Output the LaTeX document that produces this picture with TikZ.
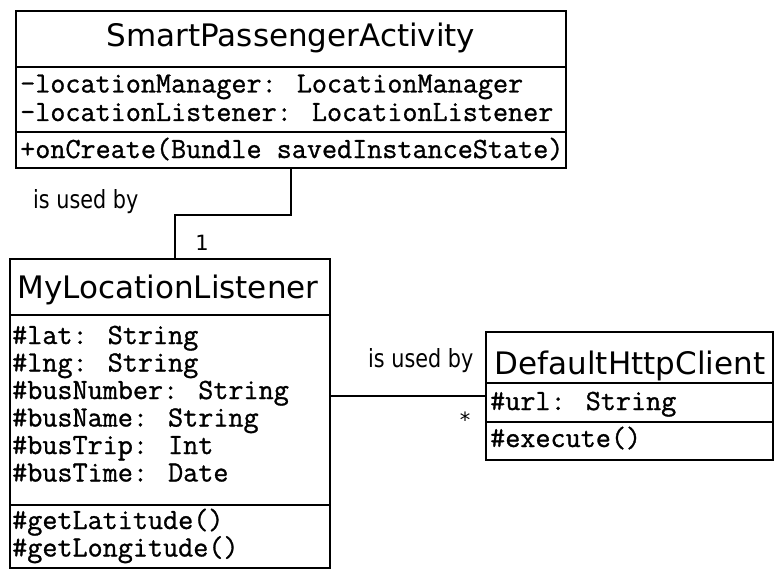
\documentclass[tikz,border=0pt]{standalone}
\usepackage{fontspec}
\setmainfont{DejaVu Sans}
\newfontfamily\titlefont{DejaVu Sans}
\newfontfamily\labelfont[FakeStretch=0.83]{DejaVu Sans}
\newfontfamily\codefont[FakeBold=1]{Latin Modern Mono}

\begin{document}
\begin{tikzpicture}[x=1pt,y=-1pt,
  classbox/.style={draw=black, line width=2.5pt, rectangle, inner sep=0pt,
    outer sep=0pt, anchor=north west},
  divider/.style={draw=black, line width=2.5pt},
  classname/.style={font=\titlefont\fontsize{31}{31}\selectfont, inner sep=0pt, anchor=base},
  member/.style={font=\codefont\fontsize{29.3}{29.3}\selectfont, inner sep=0pt, anchor=base west},
  assoc/.style={draw=black, line width=2.5pt},
  rolelabel/.style={font=\labelfont\fontsize{25}{25}\selectfont, inner sep=0pt, anchor=base west},
  multlabel/.style={font=\titlefont\fontsize{21}{21}\selectfont, inner sep=0pt}
]
\useasboundingbox[fill=white] (0,0) rectangle (775,572);

% ---- SmartPassengerActivity ----
\node[classbox, minimum width=550pt, minimum height=157pt] (spa) at (16,11) {};
\node[classname] (spa-name) at (291,47) {SmartPassengerActivity};
\draw[divider] (16,67) -- (566,67);
\node[member] (spa-a1) at (20,92.5) {-locationManager: LocationManager};
\node[member] (spa-a2) at (20,121) {-locationListener: LocationListener};
\draw[divider] (16,132) -- (566,132);
\begin{scope}
  \clip (16,132) rectangle (565,168);
  \node[member] (spa-o1) at (20,158) {+onCreate(Bundle savedInstanceState)};
\end{scope}

% ---- MyLocationListener ----
\node[classbox, minimum width=320pt, minimum height=309pt] (mll) at (10,259) {};
\node[classname] (mll-name) at (168,298) {MyLocationListener};
\draw[divider] (10,315) -- (330,315);
\node[member] (mll-a1) at (12,344) {\#lat: String};
\node[member] (mll-a2) at (12,371.5) {\#lng: String};
\node[member] (mll-a3) at (12,399) {\#busNumber: String};
\node[member] (mll-a4) at (12,426.5) {\#busName: String};
\node[member] (mll-a5) at (12,454) {\#busTrip: Int};
\node[member] (mll-a6) at (12,481.5) {\#busTime: Date};
\draw[divider] (10,505) -- (330,505);
\node[member] (mll-o1) at (12,529) {\#getLatitude()};
\node[member] (mll-o2) at (12,556.5) {\#getLongitude()};

% ---- DefaultHttpClient ----
\node[classbox, minimum width=287pt, minimum height=128pt] (dhc) at (486,332) {};
\node[classname] (dhc-name) at (630,374) {DefaultHttpClient};
\draw[divider] (486,383) -- (773,383);
\node[member] (dhc-a1) at (490,410) {\#url: String};
\draw[divider] (486,422) -- (773,422);
\node[member] (dhc-o1) at (490,447) {\#execute()};

% ---- associations ----
\coordinate (bend) at (175,215);
\draw[assoc] (spa.south) |- (bend) -- (bend |- mll.north);
\node[rolelabel] (lbl-used1) at (33,208) {is used by};
\node[multlabel] (mult-one) at (202,243) {1};

\draw[assoc] (dhc.west -| mll.east) -- (dhc.west);
\node[rolelabel] (lbl-used2) at (368,367) {is used by};
\node[multlabel] (mult-many) at (465,420) {*};
\end{tikzpicture}
\end{document}
